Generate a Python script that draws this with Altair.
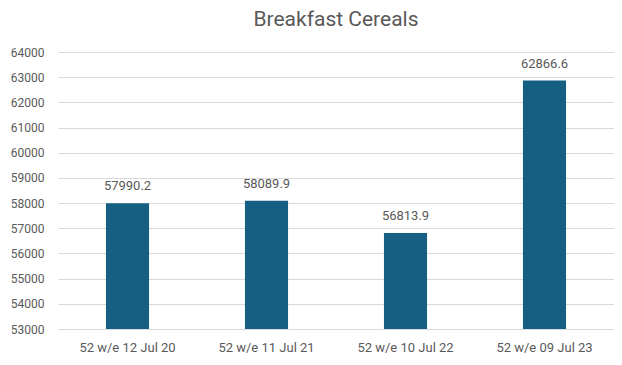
import altair as alt
import pandas as pd

periods = ["52 w/e 12 Jul 20", "52 w/e 11 Jul 21", "52 w/e 10 Jul 22", "52 w/e 09 Jul 23"]
values = [57990.2, 58089.9, 56813.9, 62866.6]
y_ticks = list(range(53000, 64001, 1000))

df = pd.DataFrame({"period": periods, "value": values})
df["label"] = [f"{v:.1f}" for v in values]

FONT = "Roboto"
GREY = "#595959"

base = alt.Chart(df).encode(
    x=alt.X("period:N", sort=periods, title=None,
            scale=alt.Scale(paddingInner=0.69, paddingOuter=0.345),
            axis=alt.Axis(labelAngle=0, labelFont=FONT, labelFontSize=13, labelColor=GREY,
                          labelPadding=12, ticks=False, domain=False, grid=False)),
)

bars = base.mark_bar(color="#156082").encode(
    y=alt.Y("value:Q", title=None,
            scale=alt.Scale(domain=[53000, 64000], nice=False, clamp=True),
            axis=alt.Axis(values=y_ticks, format="d", labelFont=FONT, labelFontSize=12,
                          labelColor=GREY, labelPadding=14, ticks=False, domain=False,
                          labelOverlap=False, tickCount=12,
                          gridColor="#d9d9d9", gridWidth=1)),
    y2=alt.datum(53000),
)

labels = base.mark_text(baseline="bottom", dy=-10, font=FONT, fontSize=13, color=GREY).encode(
    y=alt.Y("value:Q"),
    text="label:N",
)

chart = alt.layer(bars, labels).properties(
    width=556, height=277,
    title=alt.TitleParams("Breakfast Cereals", font=FONT, fontSize=21, fontWeight="normal",
                          color=GREY, anchor="middle", offset=16),
    autosize=alt.AutoSizeParams(type="none"),
    padding={"left": 50, "top": 44, "right": 0, "bottom": 28},
).configure_view(stroke=None)

chart.save("out.html", embed_options={"renderer": "svg", "actions": False})
